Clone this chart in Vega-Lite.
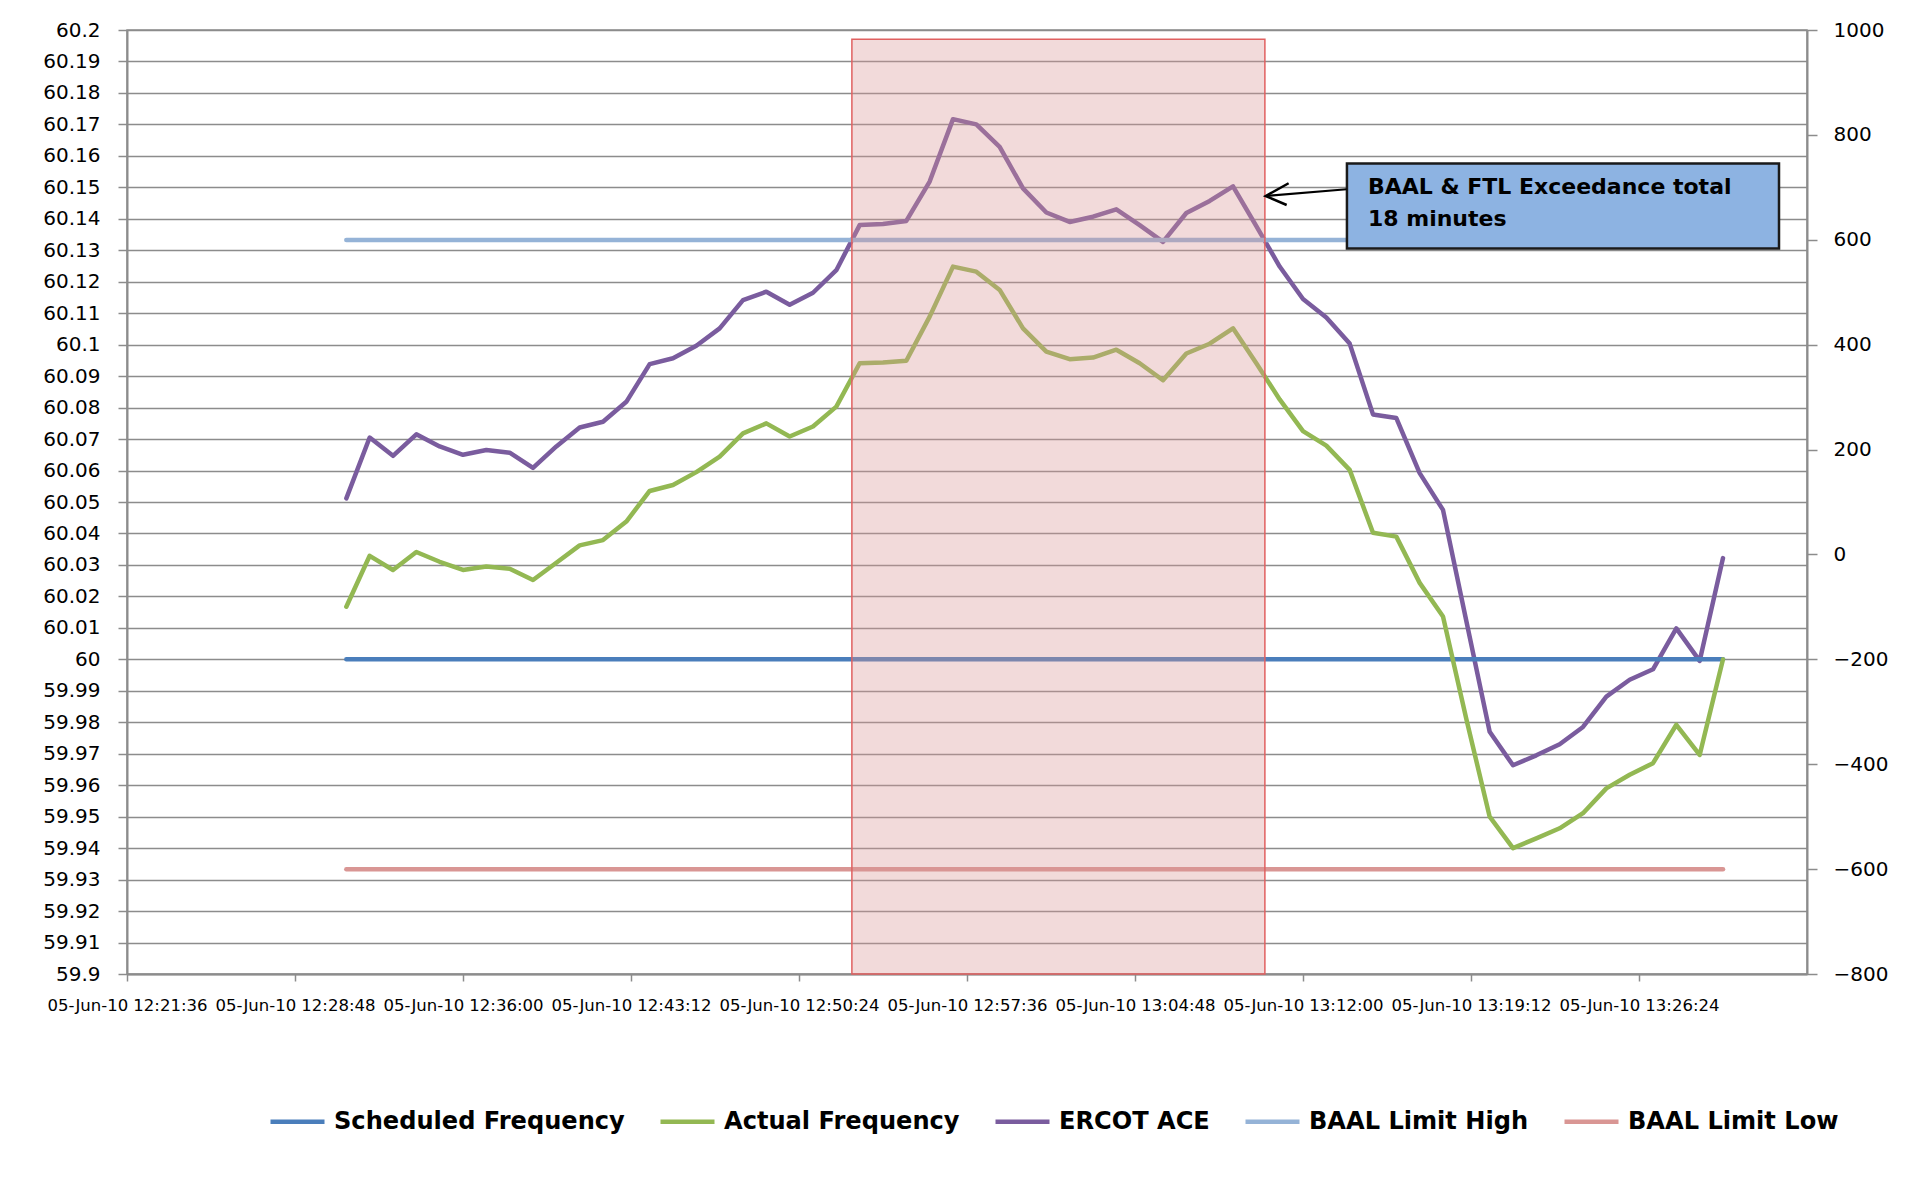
{
  "$schema": "https://vega.github.io/schema/vega-lite/v6.json",
  "width": 1680,
  "height": 944,
  "autosize": {"type": "none"},
  "padding": {"left": 127, "top": 30, "right": 122, "bottom": 220},
  "background": "white",
  "config": {
    "view": {"stroke": "#8c8c8c", "strokeWidth": 1.5},
    "font": "DejaVu Sans",
    "legend": {
      "orient": "none",
      "legendX": 141,
      "legendY": 1062,
      "direction": "horizontal",
      "columns": 5,
      "symbolType": "stroke",
      "symbolSize": 2916,
      "symbolStrokeWidth": 4.5,
      "labelFont": "DejaVu Sans",
      "labelFontWeight": "bold",
      "labelFontSize": 24.1,
      "labelColor": "#000000",
      "labelOffset": 7,
      "columnPadding": 26,
      "padding": 0,
      "labelLimit": 400
    }
  },
  "datasets": {
    "main": [
      {"t": "2010-06-05T12:31:00", "Scheduled Frequency": 60, "Actual Frequency": 60.0167, "ERCOT ACE": 107, "BAAL Limit High": 60.1333, "BAAL Limit Low": 59.9333},
      {"t": "2010-06-05T12:32:00", "Scheduled Frequency": 60, "Actual Frequency": 60.0329, "ERCOT ACE": 223, "BAAL Limit High": 60.1333, "BAAL Limit Low": 59.9333},
      {"t": "2010-06-05T12:33:00", "Scheduled Frequency": 60, "Actual Frequency": 60.0284, "ERCOT ACE": 188, "BAAL Limit High": 60.1333, "BAAL Limit Low": 59.9333},
      {"t": "2010-06-05T12:34:00", "Scheduled Frequency": 60, "Actual Frequency": 60.0341, "ERCOT ACE": 229, "BAAL Limit High": 60.1333, "BAAL Limit Low": 59.9333},
      {"t": "2010-06-05T12:35:00", "Scheduled Frequency": 60, "Actual Frequency": 60.031, "ERCOT ACE": 206, "BAAL Limit High": 60.1333, "BAAL Limit Low": 59.9333},
      {"t": "2010-06-05T12:36:00", "Scheduled Frequency": 60, "Actual Frequency": 60.0284, "ERCOT ACE": 190, "BAAL Limit High": 60.1333, "BAAL Limit Low": 59.9333},
      {"t": "2010-06-05T12:37:00", "Scheduled Frequency": 60, "Actual Frequency": 60.0295, "ERCOT ACE": 199, "BAAL Limit High": 60.1333, "BAAL Limit Low": 59.9333},
      {"t": "2010-06-05T12:38:00", "Scheduled Frequency": 60, "Actual Frequency": 60.0288, "ERCOT ACE": 194, "BAAL Limit High": 60.1333, "BAAL Limit Low": 59.9333},
      {"t": "2010-06-05T12:39:00", "Scheduled Frequency": 60, "Actual Frequency": 60.0252, "ERCOT ACE": 165, "BAAL Limit High": 60.1333, "BAAL Limit Low": 59.9333},
      {"t": "2010-06-05T12:40:00", "Scheduled Frequency": 60, "Actual Frequency": 60.0307, "ERCOT ACE": 206, "BAAL Limit High": 60.1333, "BAAL Limit Low": 59.9333},
      {"t": "2010-06-05T12:41:00", "Scheduled Frequency": 60, "Actual Frequency": 60.0362, "ERCOT ACE": 242, "BAAL Limit High": 60.1333, "BAAL Limit Low": 59.9333},
      {"t": "2010-06-05T12:42:00", "Scheduled Frequency": 60, "Actual Frequency": 60.0379, "ERCOT ACE": 253, "BAAL Limit High": 60.1333, "BAAL Limit Low": 59.9333},
      {"t": "2010-06-05T12:43:00", "Scheduled Frequency": 60, "Actual Frequency": 60.0438, "ERCOT ACE": 291, "BAAL Limit High": 60.1333, "BAAL Limit Low": 59.9333},
      {"t": "2010-06-05T12:44:00", "Scheduled Frequency": 60, "Actual Frequency": 60.0535, "ERCOT ACE": 363, "BAAL Limit High": 60.1333, "BAAL Limit Low": 59.9333},
      {"t": "2010-06-05T12:45:00", "Scheduled Frequency": 60, "Actual Frequency": 60.0554, "ERCOT ACE": 374, "BAAL Limit High": 60.1333, "BAAL Limit Low": 59.9333},
      {"t": "2010-06-05T12:46:00", "Scheduled Frequency": 60, "Actual Frequency": 60.0595, "ERCOT ACE": 398, "BAAL Limit High": 60.1333, "BAAL Limit Low": 59.9333},
      {"t": "2010-06-05T12:47:00", "Scheduled Frequency": 60, "Actual Frequency": 60.0644, "ERCOT ACE": 431, "BAAL Limit High": 60.1333, "BAAL Limit Low": 59.9333},
      {"t": "2010-06-05T12:48:00", "Scheduled Frequency": 60, "Actual Frequency": 60.0718, "ERCOT ACE": 485, "BAAL Limit High": 60.1333, "BAAL Limit Low": 59.9333},
      {"t": "2010-06-05T12:49:00", "Scheduled Frequency": 60, "Actual Frequency": 60.075, "ERCOT ACE": 501, "BAAL Limit High": 60.1333, "BAAL Limit Low": 59.9333},
      {"t": "2010-06-05T12:50:00", "Scheduled Frequency": 60, "Actual Frequency": 60.0708, "ERCOT ACE": 476, "BAAL Limit High": 60.1333, "BAAL Limit Low": 59.9333},
      {"t": "2010-06-05T12:51:00", "Scheduled Frequency": 60, "Actual Frequency": 60.074, "ERCOT ACE": 499, "BAAL Limit High": 60.1333, "BAAL Limit Low": 59.9333},
      {"t": "2010-06-05T12:52:00", "Scheduled Frequency": 60, "Actual Frequency": 60.0803, "ERCOT ACE": 542, "BAAL Limit High": 60.1333, "BAAL Limit Low": 59.9333},
      {"t": "2010-06-05T12:53:00", "Scheduled Frequency": 60, "Actual Frequency": 60.0941, "ERCOT ACE": 628, "BAAL Limit High": 60.1333, "BAAL Limit Low": 59.9333},
      {"t": "2010-06-05T12:54:00", "Scheduled Frequency": 60, "Actual Frequency": 60.0943, "ERCOT ACE": 630, "BAAL Limit High": 60.1333, "BAAL Limit Low": 59.9333},
      {"t": "2010-06-05T12:55:00", "Scheduled Frequency": 60, "Actual Frequency": 60.0949, "ERCOT ACE": 636, "BAAL Limit High": 60.1333, "BAAL Limit Low": 59.9333},
      {"t": "2010-06-05T12:56:00", "Scheduled Frequency": 60, "Actual Frequency": 60.1089, "ERCOT ACE": 711, "BAAL Limit High": 60.1333, "BAAL Limit Low": 59.9333},
      {"t": "2010-06-05T12:57:00", "Scheduled Frequency": 60, "Actual Frequency": 60.1248, "ERCOT ACE": 830, "BAAL Limit High": 60.1333, "BAAL Limit Low": 59.9333},
      {"t": "2010-06-05T12:58:00", "Scheduled Frequency": 60, "Actual Frequency": 60.1232, "ERCOT ACE": 820, "BAAL Limit High": 60.1333, "BAAL Limit Low": 59.9333},
      {"t": "2010-06-05T12:59:00", "Scheduled Frequency": 60, "Actual Frequency": 60.1174, "ERCOT ACE": 777, "BAAL Limit High": 60.1333, "BAAL Limit Low": 59.9333},
      {"t": "2010-06-05T13:00:00", "Scheduled Frequency": 60, "Actual Frequency": 60.1052, "ERCOT ACE": 698, "BAAL Limit High": 60.1333, "BAAL Limit Low": 59.9333},
      {"t": "2010-06-05T13:01:00", "Scheduled Frequency": 60, "Actual Frequency": 60.0978, "ERCOT ACE": 652, "BAAL Limit High": 60.1333, "BAAL Limit Low": 59.9333},
      {"t": "2010-06-05T13:02:00", "Scheduled Frequency": 60, "Actual Frequency": 60.0954, "ERCOT ACE": 634, "BAAL Limit High": 60.1333, "BAAL Limit Low": 59.9333},
      {"t": "2010-06-05T13:03:00", "Scheduled Frequency": 60, "Actual Frequency": 60.0959, "ERCOT ACE": 644, "BAAL Limit High": 60.1333, "BAAL Limit Low": 59.9333},
      {"t": "2010-06-05T13:04:00", "Scheduled Frequency": 60, "Actual Frequency": 60.0984, "ERCOT ACE": 658, "BAAL Limit High": 60.1333, "BAAL Limit Low": 59.9333},
      {"t": "2010-06-05T13:05:00", "Scheduled Frequency": 60, "Actual Frequency": 60.0941, "ERCOT ACE": 628, "BAAL Limit High": 60.1333, "BAAL Limit Low": 59.9333},
      {"t": "2010-06-05T13:06:00", "Scheduled Frequency": 60, "Actual Frequency": 60.0887, "ERCOT ACE": 596, "BAAL Limit High": 60.1333, "BAAL Limit Low": 59.9333},
      {"t": "2010-06-05T13:07:00", "Scheduled Frequency": 60, "Actual Frequency": 60.0972, "ERCOT ACE": 651, "BAAL Limit High": 60.1333, "BAAL Limit Low": 59.9333},
      {"t": "2010-06-05T13:08:00", "Scheduled Frequency": 60, "Actual Frequency": 60.1003, "ERCOT ACE": 674, "BAAL Limit High": 60.1333, "BAAL Limit Low": 59.9333},
      {"t": "2010-06-05T13:09:00", "Scheduled Frequency": 60, "Actual Frequency": 60.1052, "ERCOT ACE": 702, "BAAL Limit High": 60.1333, "BAAL Limit Low": 59.9333},
      {"t": "2010-06-05T13:10:00", "Scheduled Frequency": 60, "Actual Frequency": 60.0941, "ERCOT ACE": 626, "BAAL Limit High": 60.1333, "BAAL Limit Low": 59.9333},
      {"t": "2010-06-05T13:11:00", "Scheduled Frequency": 60, "Actual Frequency": 60.0826, "ERCOT ACE": 549, "BAAL Limit High": 60.1333, "BAAL Limit Low": 59.9333},
      {"t": "2010-06-05T13:12:00", "Scheduled Frequency": 60, "Actual Frequency": 60.0725, "ERCOT ACE": 487, "BAAL Limit High": 60.1333, "BAAL Limit Low": 59.9333},
      {"t": "2010-06-05T13:13:00", "Scheduled Frequency": 60, "Actual Frequency": 60.0679, "ERCOT ACE": 452, "BAAL Limit High": 60.1333, "BAAL Limit Low": 59.9333},
      {"t": "2010-06-05T13:14:00", "Scheduled Frequency": 60, "Actual Frequency": 60.0602, "ERCOT ACE": 402, "BAAL Limit High": 60.1333, "BAAL Limit Low": 59.9333},
      {"t": "2010-06-05T13:15:00", "Scheduled Frequency": 60, "Actual Frequency": 60.0402, "ERCOT ACE": 267, "BAAL Limit High": 60.1333, "BAAL Limit Low": 59.9333},
      {"t": "2010-06-05T13:16:00", "Scheduled Frequency": 60, "Actual Frequency": 60.039, "ERCOT ACE": 260, "BAAL Limit High": 60.1333, "BAAL Limit Low": 59.9333},
      {"t": "2010-06-05T13:17:00", "Scheduled Frequency": 60, "Actual Frequency": 60.0243, "ERCOT ACE": 155, "BAAL Limit High": 60.1333, "BAAL Limit Low": 59.9333},
      {"t": "2010-06-05T13:18:00", "Scheduled Frequency": 60, "Actual Frequency": 60.0136, "ERCOT ACE": 85, "BAAL Limit High": 60.1333, "BAAL Limit Low": 59.9333},
      {"t": "2010-06-05T13:19:00", "Scheduled Frequency": 60, "Actual Frequency": 59.981, "ERCOT ACE": -127, "BAAL Limit High": 60.1333, "BAAL Limit Low": 59.9333},
      {"t": "2010-06-05T13:20:00", "Scheduled Frequency": 60, "Actual Frequency": 59.95, "ERCOT ACE": -338, "BAAL Limit High": 60.1333, "BAAL Limit Low": 59.9333},
      {"t": "2010-06-05T13:21:00", "Scheduled Frequency": 60, "Actual Frequency": 59.94, "ERCOT ACE": -402, "BAAL Limit High": 60.1333, "BAAL Limit Low": 59.9333},
      {"t": "2010-06-05T13:22:00", "Scheduled Frequency": 60, "Actual Frequency": 59.9431, "ERCOT ACE": -383, "BAAL Limit High": 60.1333, "BAAL Limit Low": 59.9333},
      {"t": "2010-06-05T13:23:00", "Scheduled Frequency": 60, "Actual Frequency": 59.9463, "ERCOT ACE": -362, "BAAL Limit High": 60.1333, "BAAL Limit Low": 59.9333},
      {"t": "2010-06-05T13:24:00", "Scheduled Frequency": 60, "Actual Frequency": 59.9511, "ERCOT ACE": -329, "BAAL Limit High": 60.1333, "BAAL Limit Low": 59.9333},
      {"t": "2010-06-05T13:25:00", "Scheduled Frequency": 60, "Actual Frequency": 59.959, "ERCOT ACE": -271, "BAAL Limit High": 60.1333, "BAAL Limit Low": 59.9333},
      {"t": "2010-06-05T13:26:00", "Scheduled Frequency": 60, "Actual Frequency": 59.9633, "ERCOT ACE": -239, "BAAL Limit High": 60.1333, "BAAL Limit Low": 59.9333},
      {"t": "2010-06-05T13:27:00", "Scheduled Frequency": 60, "Actual Frequency": 59.967, "ERCOT ACE": -219, "BAAL Limit High": 60.1333, "BAAL Limit Low": 59.9333},
      {"t": "2010-06-05T13:28:00", "Scheduled Frequency": 60, "Actual Frequency": 59.9792, "ERCOT ACE": -141, "BAAL Limit High": 60.1333, "BAAL Limit Low": 59.9333},
      {"t": "2010-06-05T13:29:00", "Scheduled Frequency": 60, "Actual Frequency": 59.9696, "ERCOT ACE": -203, "BAAL Limit High": 60.1333, "BAAL Limit Low": 59.9333},
      {"t": "2010-06-05T13:30:00", "Scheduled Frequency": 60, "Actual Frequency": 60.0, "ERCOT ACE": -7, "BAAL Limit High": 60.1333, "BAAL Limit Low": 59.9333}
    ],
    "shade": [{"t": "2010-06-05T12:52:40", "t2": "2010-06-05T13:10:22", "v": 60.1971, "v2": 59.9}],
    "box": [{"t": "2010-06-05T13:13:53", "t2": "2010-06-05T13:32:24", "v": 60.15755, "v2": 60.13057}],
    "shaft": [{"t": "2010-06-05T13:10:24", "v": 60.14725, "t2": "2010-06-05T13:13:52", "v2": 60.14938}],
    "head": [
      {"t": "2010-06-05T13:11:23", "v": 60.15129, "o": 1},
      {"t": "2010-06-05T13:10:24", "v": 60.14725, "o": 2},
      {"t": "2010-06-05T13:11:18", "v": 60.14439, "o": 3}
    ],
    "note": [
      {"t": "2010-06-05T13:14:47", "v": 60.1501, "label": "BAAL & FTL Exceedance total"},
      {"t": "2010-06-05T13:14:47", "v": 60.1399, "label": "18 minutes"}
    ]
  },
  "encoding": {
    "x": {
      "field": "t", "type": "temporal", "title": null,
      "scale": {"domain": [
        {"year": 2010, "month": 6, "date": 5, "hours": 12, "minutes": 21, "seconds": 36},
        {"year": 2010, "month": 6, "date": 5, "hours": 13, "minutes": 33, "seconds": 36}
      ]},
      "axis": {
        "values": [
          {"year": 2010, "month": 6, "date": 5, "hours": 12, "minutes": 21, "seconds": 36},
          {"year": 2010, "month": 6, "date": 5, "hours": 12, "minutes": 28, "seconds": 48},
          {"year": 2010, "month": 6, "date": 5, "hours": 12, "minutes": 36, "seconds": 0},
          {"year": 2010, "month": 6, "date": 5, "hours": 12, "minutes": 43, "seconds": 12},
          {"year": 2010, "month": 6, "date": 5, "hours": 12, "minutes": 50, "seconds": 24},
          {"year": 2010, "month": 6, "date": 5, "hours": 12, "minutes": 57, "seconds": 36},
          {"year": 2010, "month": 6, "date": 5, "hours": 13, "minutes": 4, "seconds": 48},
          {"year": 2010, "month": 6, "date": 5, "hours": 13, "minutes": 12, "seconds": 0},
          {"year": 2010, "month": 6, "date": 5, "hours": 13, "minutes": 19, "seconds": 12},
          {"year": 2010, "month": 6, "date": 5, "hours": 13, "minutes": 26, "seconds": 24}
        ],
        "format": "%d-%b-%y %H:%M:%S",
        "grid": false,
        "labelFlush": false,
        "labelBound": false,
        "labelOverlap": false,
        "labelFont": "DejaVu Sans",
        "labelFontSize": 16.5,
        "labelColor": "#000000",
        "labelPadding": 16,
        "tickSize": 7,
        "tickColor": "#8c8c8c",
        "tickWidth": 1.5,
        "domainColor": "#8c8c8c",
        "domainWidth": 2,
        "title": null
      }
    }
  },
  "layer": [
    {
      "data": {"name": "main"},
      "transform": [{"fold": ["ERCOT ACE"], "as": ["series", "v"]}],
      "mark": {"type": "line", "strokeWidth": 4.5, "strokeCap": "round", "strokeJoin": "round"},
      "encoding": {
        "y": {
          "field": "v", "type": "quantitative", "title": null,
          "scale": {"domain": [-800, 1000], "nice": false, "zero": false},
          "axis": {
            "orient": "right",
            "values": [-800, -600, -400, -200, 0, 200, 400, 600, 800, 1000],
            "format": "d",
            "grid": false,
            "labelFont": "DejaVu Sans",
            "labelFontSize": 20,
            "labelColor": "#000000",
            "labelPadding": 16,
            "tickSize": 10,
            "tickColor": "#8c8c8c",
            "tickWidth": 1.5,
            "domainColor": "#8c8c8c",
            "domainWidth": 2,
            "title": null
          }
        },
        "color": {
          "field": "series", "type": "nominal", "title": null,
          "scale": {
            "domain": ["Scheduled Frequency", "Actual Frequency", "ERCOT ACE", "BAAL Limit High", "BAAL Limit Low"],
            "range": ["#4A7EBB", "#93B853", "#7A5C9E", "#95B3D7", "#D99694"]
          },
          "legend": {"title": null}
        }
      }
    },
    {
      "encoding": {
        "y": {
          "field": "v", "type": "quantitative", "title": null,
          "scale": {"domain": [59.9, 60.2], "nice": false, "zero": false},
          "axis": {
            "orient": "left",
            "values": [59.9, 59.91, 59.92, 59.93, 59.94, 59.95, 59.96, 59.97, 59.98, 59.99, 60, 60.01, 60.02, 60.03, 60.04, 60.05, 60.06, 60.07, 60.08, 60.09, 60.1, 60.11, 60.12, 60.13, 60.14, 60.15, 60.16, 60.17, 60.18, 60.19, 60.2],
            "format": ".4~r",
            "grid": true,
            "gridColor": "#8c8c8c",
            "gridWidth": 1.5,
            "labelOverlap": false,
            "labelFont": "DejaVu Sans",
            "labelFontSize": 20,
            "labelColor": "#000000",
            "labelPadding": 18,
            "tickSize": 9,
            "tickColor": "#8c8c8c",
            "tickWidth": 1.5,
            "domainColor": "#8c8c8c",
            "domainWidth": 2,
            "title": null
          }
        }
      },
      "layer": [
        {
          "data": {"name": "main"},
          "transform": [{"fold": ["Scheduled Frequency", "Actual Frequency", "BAAL Limit High", "BAAL Limit Low"], "as": ["series", "v"]}],
          "mark": {"type": "line", "strokeWidth": 4.5, "strokeCap": "round", "strokeJoin": "round"},
          "encoding": {
            "color": {
              "field": "series", "type": "nominal", "title": null,
              "scale": {
                "domain": ["Scheduled Frequency", "Actual Frequency", "ERCOT ACE", "BAAL Limit High", "BAAL Limit Low"],
                "range": ["#4A7EBB", "#93B853", "#7A5C9E", "#95B3D7", "#D99694"]
              },
              "legend": {"title": null}
            }
          }
        },
        {
          "data": {"name": "shade"},
          "mark": {"type": "rect", "fill": "#d99694", "fillOpacity": 0.35, "stroke": "#e06060", "strokeWidth": 1.5},
          "encoding": {
            "x2": {"field": "t2"},
            "y2": {"field": "v2"}
          }
        },
        {
          "data": {"name": "box"},
          "mark": {"type": "rect", "fill": "#8DB3E2", "stroke": "#1a1a1a", "strokeWidth": 2.5},
          "encoding": {
            "x2": {"field": "t2"},
            "y2": {"field": "v2"}
          }
        },
        {
          "data": {"name": "shaft"},
          "mark": {"type": "rule", "color": "#000000", "strokeWidth": 2},
          "encoding": {
            "x2": {"field": "t2"},
            "y2": {"field": "v2"}
          }
        },
        {
          "data": {"name": "head"},
          "mark": {"type": "line", "color": "#000000", "strokeWidth": 2.5, "strokeJoin": "miter"},
          "encoding": {
            "order": {"field": "o", "type": "quantitative"}
          }
        },
        {
          "data": {"name": "note"},
          "mark": {"type": "text", "align": "left", "baseline": "middle", "font": "DejaVu Sans", "fontWeight": "bold", "fontSize": 22, "color": "#000000"},
          "encoding": {
            "text": {"field": "label"}
          }
        }
      ]
    }
  ],
  "resolve": {"scale": {"y": "independent"}}
}
